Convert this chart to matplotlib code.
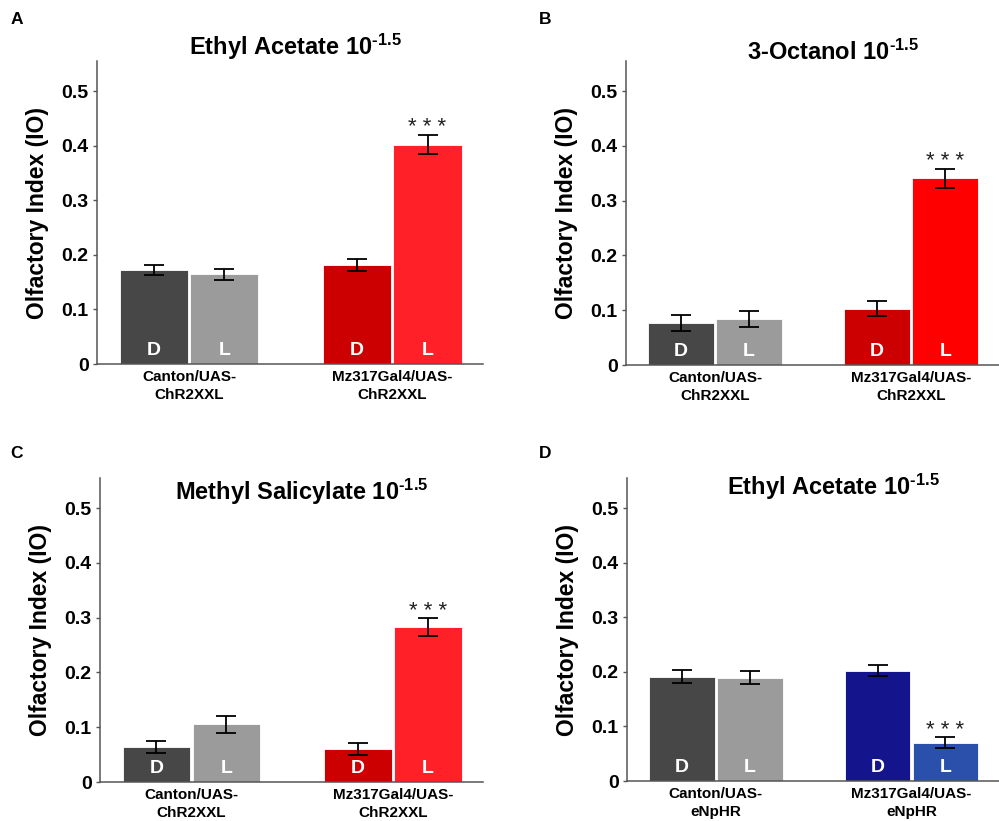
import numpy as np
import matplotlib
matplotlib.use('Agg')
import matplotlib.pyplot as plt

plt.rcParams['font.family'] = ['Liberation Sans', 'DejaVu Sans']
plt.rcParams['mathtext.fontset'] = 'custom'
plt.rcParams['mathtext.rm'] = 'Liberation Sans:bold'
plt.rcParams['mathtext.bf'] = 'Liberation Sans:bold'
plt.rcParams['mathtext.default'] = 'rm'

# data
panels = ['A', 'B', 'C', 'D']
odours = ['Ethyl Acetate', '3-Octanol', 'Methyl Salicylate', 'Ethyl Acetate']
groups_chr = ['Canton/UAS-\nChR2XXL', 'Mz317Gal4/UAS-\nChR2XXL']
groups_np = ['Canton/UAS-\neNpHR', 'Mz317Gal4/UAS-\neNpHR']
group_labels = [groups_chr, groups_chr, groups_chr, groups_np]

# order: Canton D, Canton L, Mz D, Mz L
means = [
    [0.172, 0.164, 0.181, 0.402],
    [0.077, 0.084, 0.103, 0.341],
    [0.064, 0.105, 0.061, 0.283],
    [0.191, 0.189, 0.202, 0.070],
]
errs = [
    [0.0095, 0.0095, 0.0115, 0.0175],
    [0.0145, 0.014, 0.014, 0.017],
    [0.011, 0.015, 0.011, 0.016],
    [0.012, 0.012, 0.010, 0.010],
]
sig_bar = 3  # bar index carrying the *** mark

red_cols = ['#474747', '#9b9b9b', '#cc0000', '#ff2028']
red_cols_b = ['#474747', '#9b9b9b', '#cc0000', '#ff0000']
blue_cols = ['#474747', '#9b9b9b', '#14148c', '#2b50ac']
colours = [red_cols, red_cols_b, red_cols, blue_cols]

# axes placement (figure fractions)
ax_pos = [
    [0.0971, 0.5566, 0.3864, 0.3691],
    [0.6266, 0.5554, 0.3734, 0.3703],
    [0.1001, 0.0475, 0.3834, 0.3703],
    [0.6276, 0.0487, 0.3724, 0.3691],
]
title_xy = [(0.513, 1.046), (0.555, 1.030), (0.527, 0.954), (0.554, 0.970)]
letter_xy = [(0.017, 0.976), (0.546, 0.976), (0.017, 0.448), (0.546, 0.448)]

fig = plt.figure(figsize=(9.99, 8.21), dpi=100)

width = 0.335
offs = 0.1736
x_pos = np.array([-offs, offs, 1 - offs, 1 + offs])

for i in range(4):
    ax = fig.add_axes(ax_pos[i])
    ax.bar(x_pos, means[i], width=width, color=colours[i], edgecolor='white', linewidth=0.6, zorder=2)
    ax.errorbar(x_pos, means[i], yerr=errs[i], fmt='none', ecolor='black',
                elinewidth=1.3, capsize=7, capthick=1.3, zorder=3)
    for j, lab in enumerate(['D', 'L', 'D', 'L']):
        ax.text(x_pos[j], 0.016, lab, color='white', fontsize=14, fontweight='bold',
                ha='center', va='baseline', zorder=4)
    top = means[i][sig_bar] + errs[i][sig_bar]
    ax.text(x_pos[sig_bar], top + 0.003, '* * *', fontsize=16, color='#222222',
            ha='center', va='baseline')

    ax.set_xlim(-0.454, 1.447)
    ax.set_ylim(0, 0.555)
    ax.set_yticks([0, 0.1, 0.2, 0.3, 0.4, 0.5])
    ax.set_yticklabels(['0', '0.1', '0.2', '0.3', '0.4', '0.5'], fontsize=14, fontweight='bold')
    ax.set_xticks([0, 1])
    ax.set_xticklabels(group_labels[i], fontsize=11, fontweight='bold', linespacing=1.4)
    ax.tick_params(axis='x', length=0, pad=4)
    ax.tick_params(axis='y', length=3, width=1, pad=3, color='#555555')
    for s in ['top', 'right']:
        ax.spines[s].set_visible(False)
    for s in ['left', 'bottom']:
        ax.spines[s].set_color('#555555')
        ax.spines[s].set_linewidth(1.1)
    ax.set_ylabel('Olfactory Index (IO)', fontsize=16.5, fontweight='bold', labelpad=9)

    ax.text(title_xy[i][0], title_xy[i][1], odours[i] + r' 10$^{\text{-1.5}}$',
            transform=ax.transAxes, fontsize=17, fontweight='bold',
            ha='center', va='center')
    fig.text(letter_xy[i][0], letter_xy[i][1], panels[i], fontsize=12.5, fontweight='bold',
             ha='center', va='center')

fig.savefig('out.png', dpi=100)
